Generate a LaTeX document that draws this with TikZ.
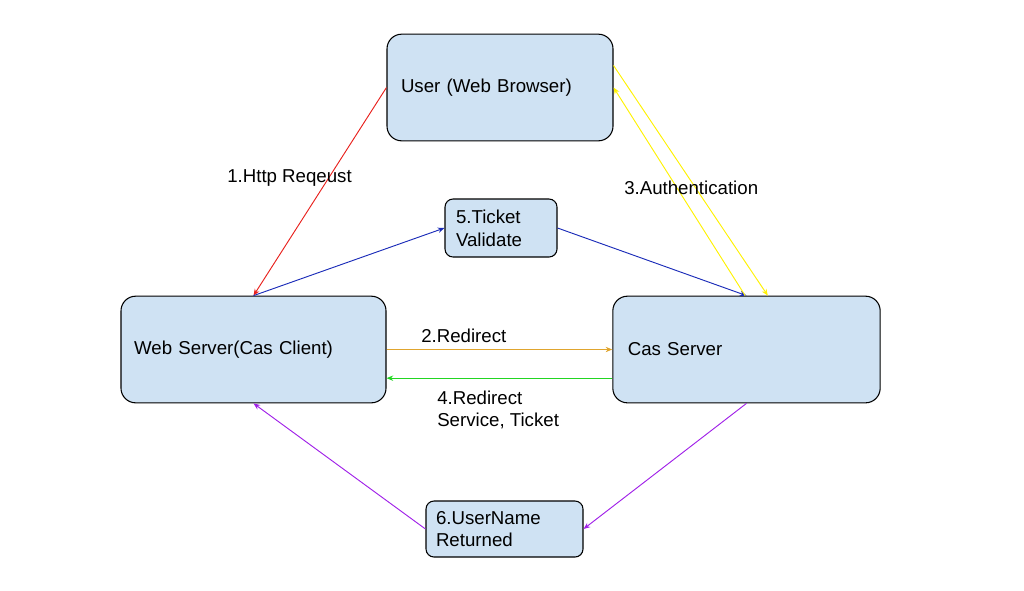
\documentclass[tikz,border=0pt]{standalone}
\usepackage{fontspec}
\setmainfont{Liberation Sans}
\usetikzlibrary{arrows.meta}
\definecolor{boxblue}{HTML}{CFE2F3}
\definecolor{redarr}{HTML}{E8201C}
\definecolor{bluearr}{HTML}{1A2BB8}
\definecolor{yellowarr}{HTML}{FFF200}
\definecolor{orangearr}{HTML}{E0A52E}
\definecolor{greenarr}{HTML}{22D622}
\definecolor{purplearr}{HTML}{A020E8}

\begin{document}
\begin{tikzpicture}[x=0.75pt, y=-0.75pt, font=\fontsize{14}{17}\selectfont,
		bigbox/.style={draw=black, line width=0.8pt, fill=boxblue, rounded corners=11pt, align=left, anchor=center},
		smallbox/.style={draw=black, line width=0.8pt, fill=boxblue, rounded corners=6pt, align=left, anchor=center},
		flow/.style={line width=0.7pt, -{Stealth[length=5pt, width=4pt]}},
		lbl/.style={anchor=west, align=left, inner sep=0pt}]
			\useasboundingbox (0,0) rectangle (1024,590);
			\node[bigbox, minimum width=169.5pt, minimum height=80pt, text width=148.5pt, inner xsep=10.5pt] (user) at (500,87.5) {User (Web Browser)};
			\node[bigbox, minimum width=198.75pt, minimum height=80pt, text width=179pt, inner xsep=9.75pt] (web) at (253.5,349.5) {Web Server(Cas Client)};
			\node[bigbox, minimum width=200.25pt, minimum height=80pt, text width=178pt, inner xsep=11.25pt] (cas) at (746.5,349.5) {Cas Server};
			\node[smallbox, minimum width=84pt, minimum height=43.5pt, text width=67.5pt, inner xsep=8.25pt, inner ysep=0pt] (ticket) at (501,228) {5.Ticket\\Validate};
			\node[smallbox, minimum width=117.75pt, minimum height=42pt, text width=102.75pt, inner xsep=7.5pt, inner ysep=0pt] (uname) at (504.5,529) {6.UserName\\Returned};
			% connectors
			\draw[flow, redarr] (user.west) -- (web.north);
			\draw[flow, bluearr] (web.north) -- (ticket.west);
			\draw[flow, bluearr] (ticket.east) -- (cas.north);
			\draw[flow, yellowarr] ([yshift=16.5pt]user.east) -- ([xshift=16pt]cas.north);
			\draw[flow, yellowarr] ([xshift=-1pt]cas.north) -- (user.east);
			\draw[flow, orangearr] (web.east) -- (cas.west);
			\draw[flow, greenarr] ([yshift=-21.5pt]cas.west) -- ([yshift=-21.5pt]web.east);
			\draw[flow, purplearr] (cas.south) -- (uname.east);
			\draw[flow, purplearr] (uname.west) -- (web.south);
			% labels
			\node[lbl] (lhttp) at (227,178) {1.Http Reqeust};
			\node[lbl] (lauth) at (624,188) {3.Authentication};
			\node[lbl] (lredir) at (421,336) {2.Redirect};
			\node[lbl] (lredirsvc) at (437,410) {4.Redirect\\Service, Ticket};
\end{tikzpicture}
\end{document}
